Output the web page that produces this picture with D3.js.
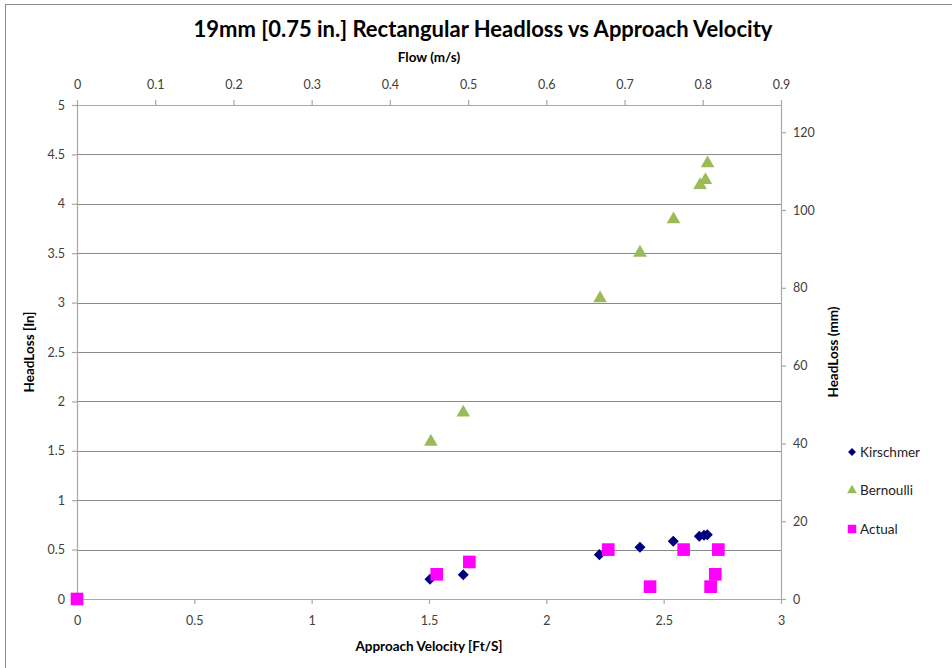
<!DOCTYPE html>
<html>
<head>
<meta charset="utf-8">
<script src="https://cdn.jsdelivr.net/npm/d3@7"></script>
<style>
  html, body { margin: 0; padding: 0; background: #fff; }
  svg { display: block; font-family: Lato, "Open Sans", sans-serif; }
</style>
</head>
<body>
<svg id="chart" width="952" height="668"></svg>
<script>
// Approach velocity [ft/s] and head loss [in] for each series
const kirschmerVel = [1.504, 1.646, 2.226, 2.399, 2.541, 2.652, 2.672, 2.686];
const kirschmerLoss = [0.20, 0.246, 0.449, 0.523, 0.584, 0.635, 0.645, 0.651];

const bernoulliVel = [1.508, 1.646, 2.229, 2.399, 2.542, 2.655, 2.678, 2.687];
const bernoulliLoss = [1.592, 1.886, 3.043, 3.505, 3.843, 4.19, 4.24, 4.41];

const actualVel = [0, 1.533, 1.672, 2.264, 2.442, 2.585, 2.70, 2.72, 2.733];
const actualLoss = [0, 0.25, 0.375, 0.5, 0.125, 0.5, 0.125, 0.25, 0.5];

const seriesNames = ["Kirschmer", "Bernoulli", "Actual"];
const seriesColors = ["#00007f", "#9bbb59", "#ff00ff"];

const bottomTicks = [0, 0.5, 1, 1.5, 2, 2.5, 3];
const topTicks = [0, 0.1, 0.2, 0.3, 0.4, 0.5, 0.6, 0.7, 0.8, 0.9];
const leftTicks = [0, 0.5, 1, 1.5, 2, 2.5, 3, 3.5, 4, 4.5, 5];
const rightTicks = [0, 20, 40, 60, 80, 100, 120];

const titleText = "19mm [0.75 in.] Rectangular Headloss vs Approach Velocity";
const xTitle = "Approach Velocity [Ft/S]";
const x2Title = "Flow (m/s)";
const yTitle = "HeadLoss [In]";
const y2Title = "HeadLoss (mm)";

const svg = d3.select("#chart");
const plot = { left: 77, right: 781, top: 105, bottom: 599 };

const x = d3.scaleLinear().domain([0, 3]).range([plot.left, plot.right]);
const x2 = d3.scaleLinear().domain([0, 0.9]).range([plot.left, plot.right]);
const y = d3.scaleLinear().domain([0, 5]).range([plot.bottom, plot.top]);
const y2 = d3.scaleLinear().domain([0, 127]).range([plot.bottom, plot.top]);

const labelColor = "#404040";
const axisColor = "#a8a8a8";
const gridColor = "#8a8a8a";

// outer chart frame
svg.append("rect")
  .attr("x", 5.5).attr("y", 4.5)
  .attr("width", 1000).attr("height", 800)
  .attr("fill", "none").attr("stroke", "#8c8c8c").attr("stroke-width", 1);

// horizontal gridlines
svg.append("g")
  .selectAll("line")
  .data(leftTicks.filter(d => d > 0))
  .join("line")
  .attr("x1", plot.left).attr("x2", plot.right)
  .attr("y1", d => Math.round(y(d)) + 0.5).attr("y2", d => Math.round(y(d)) + 0.5)
  .attr("stroke", gridColor).attr("stroke-width", 1);

function styleAxis(g) {
  g.select(".domain").attr("stroke", axisColor).attr("stroke-width", 1.2);
  g.selectAll(".tick line").attr("stroke", axisColor).attr("stroke-width", 1.2);
  g.selectAll(".tick text")
    .attr("fill", labelColor)
    .style("font-size", "12.5px")
    .style("font-family", "Lato, 'Open Sans', sans-serif");
}

// bottom axis: approach velocity
svg.append("g")
  .attr("transform", `translate(0,${plot.bottom})`)
  .call(d3.axisBottom(x).tickValues(bottomTicks).tickSize(5).tickSizeOuter(0).tickPadding(12)
    .tickFormat(d3.format("~g")))
  .call(styleAxis);

// top axis: flow in m/s
svg.append("g")
  .attr("transform", `translate(0,${plot.top})`)
  .call(d3.axisTop(x2).tickValues(topTicks).tickSize(5).tickSizeOuter(0).tickPadding(11)
    .tickFormat(d3.format("~g")))
  .call(styleAxis);

// left axis: head loss in inches
svg.append("g")
  .attr("transform", `translate(${plot.left},0)`)
  .call(d3.axisLeft(y).tickValues(leftTicks).tickSize(5).tickSizeOuter(0).tickPadding(7)
    .tickFormat(d3.format("~g")))
  .call(styleAxis);

// right axis: head loss in millimetres
svg.append("g")
  .attr("transform", `translate(${plot.right},0)`)
  .call(d3.axisRight(y2).tickValues(rightTicks).tickSize(5).tickSizeOuter(0).tickPadding(7)
    .tickFormat(d3.format("~g")))
  .call(styleAxis);

// titles
svg.append("text")
  .attr("x", 483).attr("y", 37)
  .attr("text-anchor", "middle")
  .style("font-size", "22px").style("font-weight", "bold")
  .attr("fill", "#000")
  .text(titleText);

svg.append("text")
  .attr("x", (plot.left + plot.right) / 2).attr("y", 62)
  .attr("text-anchor", "middle")
  .style("font-size", "13.5px").style("font-weight", "bold")
  .attr("fill", "#000")
  .text(x2Title);

svg.append("text")
  .attr("x", (plot.left + plot.right) / 2).attr("y", 651)
  .attr("text-anchor", "middle")
  .style("font-size", "13.5px").style("font-weight", "bold")
  .attr("fill", "#000")
  .text(xTitle);

svg.append("text")
  .attr("transform", `translate(34,${(plot.top + plot.bottom) / 2}) rotate(-90)`)
  .attr("text-anchor", "middle")
  .style("font-size", "13.5px").style("font-weight", "bold")
  .attr("fill", "#000")
  .text(yTitle);

svg.append("text")
  .attr("transform", `translate(838,${(plot.top + plot.bottom) / 2}) rotate(-90)`)
  .attr("text-anchor", "middle")
  .style("font-size", "13.5px").style("font-weight", "bold")
  .attr("fill", "#000")
  .text(y2Title);

// marker shapes
const shapes = [
  d3.symbol().type(d3.symbolDiamond2).size(78),
  d3.symbol().type(d3.symbolTriangle).size(80),
  d3.symbol().type(d3.symbolSquare).size(160)
];
const legendShapes = [
  d3.symbol().type(d3.symbolDiamond2).size(40),
  d3.symbol().type(d3.symbolTriangle).size(42),
  d3.symbol().type(d3.symbolSquare).size(72)
];

const seriesData = [
  d3.zip(kirschmerVel, kirschmerLoss),
  d3.zip(bernoulliVel, bernoulliLoss),
  d3.zip(actualVel, actualLoss)
];

seriesData.forEach((pts, i) => {
  svg.append("g")
    .selectAll("path")
    .data(pts)
    .join("path")
    .attr("d", shapes[i])
    .attr("transform", d => `translate(${x(d[0])},${y(d[1])})`)
    .attr("fill", seriesColors[i]);
});

// legend
const legend = svg.append("g").attr("transform", "translate(852,452)");
seriesNames.forEach((name, i) => {
  const row = legend.append("g").attr("transform", `translate(0,${i * 38.5})`);
  row.append("path").attr("d", legendShapes[i]).attr("fill", seriesColors[i]);
  row.append("text")
    .attr("x", 8).attr("y", 4.5)
    .style("font-size", "13.5px")
    .attr("fill", "#222")
    .text(name);
});
</script>
</body>
</html>
